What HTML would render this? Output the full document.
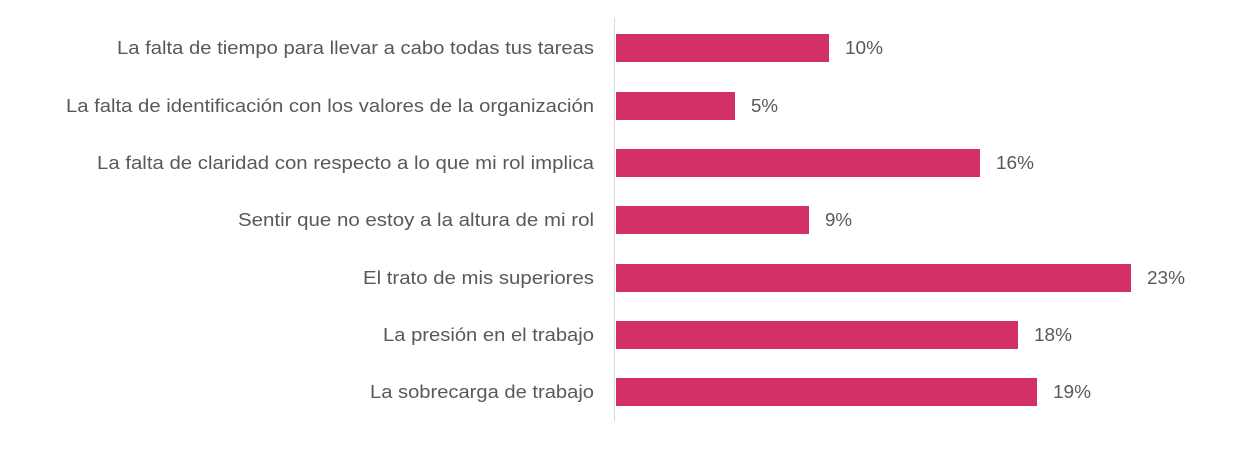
<!DOCTYPE html>
<html><head><style>body{margin:0;background:#fff}svg{display:block}</style></head><body>
<svg width="1260" height="450" xmlns="http://www.w3.org/2000/svg" font-family="Liberation Sans, sans-serif" font-size="18" fill="#595959">
<line x1="614.5" y1="18" x2="614.5" y2="421" stroke="#d9d9d9" stroke-width="1"/>
<g fill="#D33065">
<rect x="616" y="34" width="213" height="28"/>
<rect x="616" y="92" width="119" height="28"/>
<rect x="616" y="149" width="364" height="28"/>
<rect x="616" y="206" width="193" height="28"/>
<rect x="616" y="264" width="515" height="28"/>
<rect x="616" y="321" width="402" height="28"/>
<rect x="616" y="378" width="421" height="28"/>
</g>
<g text-anchor="end" dominant-baseline="central">
<text x="594" y="48" textLength="477" lengthAdjust="spacingAndGlyphs">La falta de tiempo para llevar a cabo todas tus tareas</text>
<text x="594" y="106" textLength="528" lengthAdjust="spacingAndGlyphs">La falta de identificación con los valores de la organización</text>
<text x="594" y="163" textLength="497" lengthAdjust="spacingAndGlyphs">La falta de claridad con respecto a lo que mi rol implica</text>
<text x="594" y="220" textLength="356" lengthAdjust="spacingAndGlyphs">Sentir que no estoy a la altura de mi rol</text>
<text x="594" y="278" textLength="231" lengthAdjust="spacingAndGlyphs">El trato de mis superiores</text>
<text x="594" y="335" textLength="211" lengthAdjust="spacingAndGlyphs">La presión en el trabajo</text>
<text x="594" y="392" textLength="224" lengthAdjust="spacingAndGlyphs">La sobrecarga de trabajo</text>
</g>
<g dominant-baseline="central">
<text x="845" y="48" textLength="38" lengthAdjust="spacingAndGlyphs">10%</text>
<text x="751" y="106" textLength="27" lengthAdjust="spacingAndGlyphs">5%</text>
<text x="996" y="163" textLength="38" lengthAdjust="spacingAndGlyphs">16%</text>
<text x="825" y="220" textLength="27" lengthAdjust="spacingAndGlyphs">9%</text>
<text x="1147" y="278" textLength="38" lengthAdjust="spacingAndGlyphs">23%</text>
<text x="1034" y="335" textLength="38" lengthAdjust="spacingAndGlyphs">18%</text>
<text x="1053" y="392" textLength="38" lengthAdjust="spacingAndGlyphs">19%</text>
</g>
</svg>
</body></html>
